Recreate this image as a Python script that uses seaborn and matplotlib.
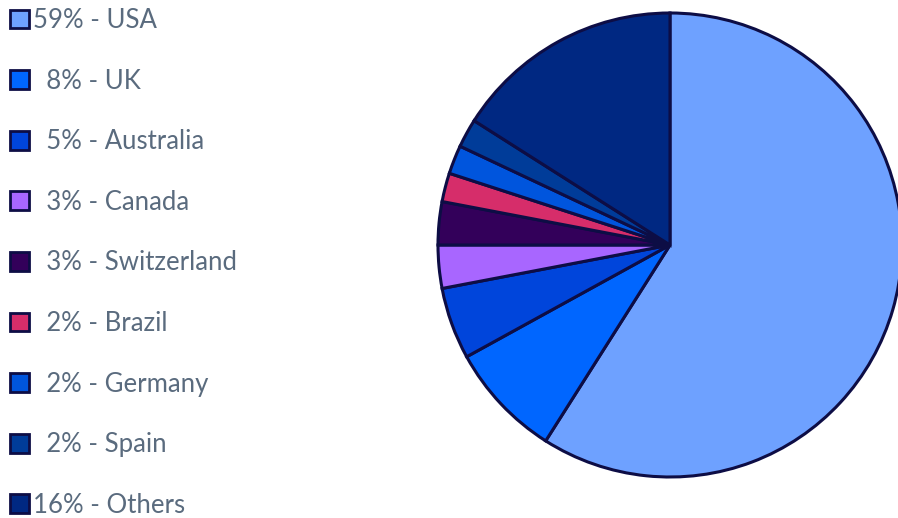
import matplotlib
matplotlib.use("Agg")
import matplotlib.pyplot as plt
import seaborn as sns

countries = ["USA", "UK", "Australia", "Canada", "Switzerland", "Brazil", "Germany", "Spain", "Others"]
shares = [59, 8, 5, 3, 3, 2, 2, 2, 16]
colors = ["#6EA1FF", "#0066FF", "#0045DB", "#A866FF", "#33005A", "#D62D6A", "#0055DD", "#003C99", "#002882"]

sns.set_theme(style="white")
plt.rcParams["font.family"] = ["Lato", "DejaVu Sans"]

W, H = 898, 518
fig = plt.figure(figsize=(W / 100, H / 100), dpi=100)

cx, cy, r = 670, 245, 232
ax = fig.add_axes([(cx - r) / W, 1 - (cy + r) / H, 2 * r / W, 2 * r / H])
wedges, _ = ax.pie(shares, colors=colors, startangle=90, counterclock=False,
                   wedgeprops=dict(edgecolor="#0D0D45", linewidth=2.2))
for w in wedges:
    w.set_clip_on(False)
ax.set_xlim(-1, 1)
ax.set_ylim(-1, 1)
ax.set_aspect("equal")
ax.axis("off")

labels = []
for s, c in zip(shares, countries):
    pct = f"{s}%"
    if len(pct) == 2:
        pct = "  " + pct
    labels.append(f"{pct} - {c}")

leg = fig.legend(wedges, labels, loc="upper left", bbox_to_anchor=(10 / W, 1 - 8 / H),
                 frameon=False, fontsize=18.5, labelcolor="#5A6B7E",
                 handlelength=0.75, handleheight=0.75, handletextpad=0.13,
                 labelspacing=1.385, borderpad=0, borderaxespad=0)
for h in leg.legend_handles:
    h.set_edgecolor("#0D0D45")
    h.set_linewidth(2.0)

fig.savefig("out.png", dpi=100)
